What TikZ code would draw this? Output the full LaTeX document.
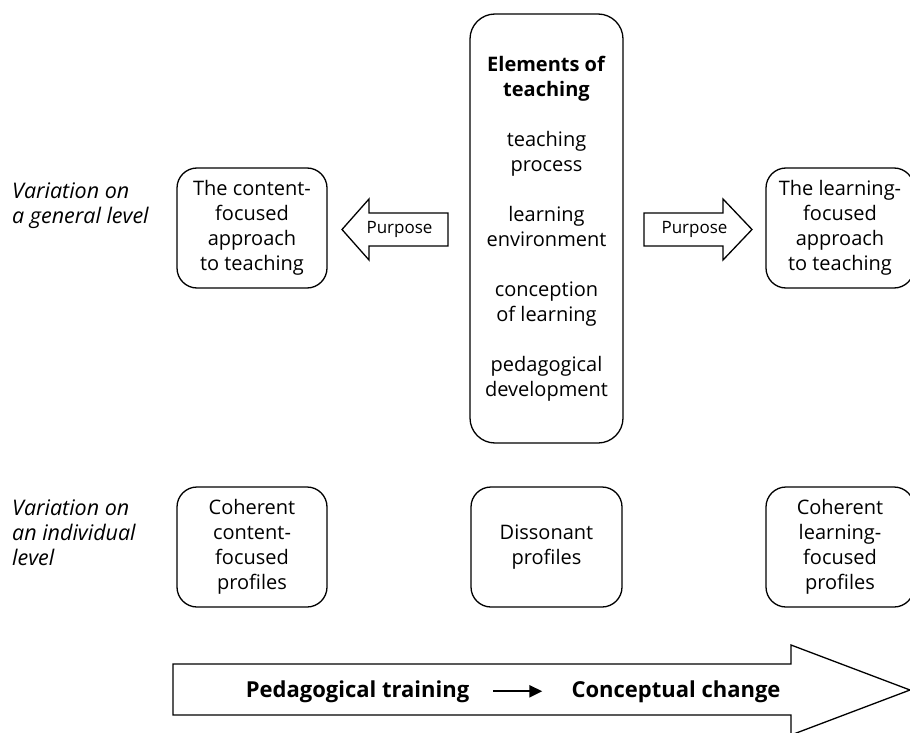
\documentclass[tikz,border=0pt]{standalone}
\usepackage{fontspec}
\setmainfont{Open Sans}
\usetikzlibrary{arrows.meta}
\begin{document}
\begin{tikzpicture}[x=1pt,y=-1pt,
  every node/.style={inner sep=0pt},
  outline/.style={draw=black, line width=1.3pt},
  card/.style={outline, rounded corners=20pt, align=center,
    minimum width=150pt, minimum height=120pt,
    font=\fontsize{20}{25}\selectfont},
  levellabel/.style={anchor=west, align=left,
    font=\fontsize{21.5}{25}\selectfont\itshape},
  purposetext/.style={font=\fontsize{17}{20}\selectfont},
  steptext/.style={anchor=base, font=\fontsize{22}{26}\selectfont\bfseries},
]
\useasboundingbox (0,0) rectangle (910,733);

% row labels
\node[levellabel] (lgen) at (12,205.5) {Variation on\\a general level};
\node[levellabel] (lind) at (12,532.5) {Variation on\\an individual\\level};

% general level
\node[card] (content) at (252,228) {The content-\\focused\\approach\\to teaching};
\node[card, minimum width=148pt] (learning) at (840,228) {The learning-\\focused\\approach\\to teaching};
\node[card, minimum width=153pt, minimum height=429pt, rounded corners=25pt]
  (elements) at (546.5,228.5)
  {\textbf{Elements of}\\\textbf{teaching}\\[25pt]
   teaching\\process\\[25pt]
   learning\\environment\\[25pt]
   conception\\of learning\\[25pt]
   pedagogical\\development};

% purpose arrows
\draw[outline, line join=miter] (448,213) -- (369,213) -- (369,199) -- (342,229.5)
  -- (369,260) -- (369,246) -- (448,246) -- cycle;
\node[purposetext] (pleft) at (399.5,229.5) {Purpose};
\draw[outline, line join=miter] (644,213) -- (723,213) -- (723,199) -- (752,229.5)
  -- (723,260) -- (723,246) -- (644,246) -- cycle;
\node[purposetext] (pright) at (694.5,229.5) {Purpose};

% individual level
\node[card] (cprof) at (252,547) {Coherent\\content-\\focused\\profiles};
\node[card, minimum width=151pt] (dprof) at (546.5,547) {Dissonant\\profiles};
\node[card, minimum width=148pt] (lprof) at (840,547) {Coherent\\learning-\\focused\\profiles};

% training arrow
\draw[outline, line join=miter] (173,664) -- (791,664) -- (791,645) -- (910,690)
  -- (791,735) -- (791,715) -- (173,715) -- cycle;
\node[steptext] (training) at (357.5,697) {Pedagogical training};
\node[steptext] (change) at (676,697) {Conceptual change};
\draw[line width=2.4pt, -{Triangle[length=13pt,width=12pt]},
  shorten <=24pt, shorten >=29pt] (training.east) -- (change.west);
\end{tikzpicture}
\end{document}
